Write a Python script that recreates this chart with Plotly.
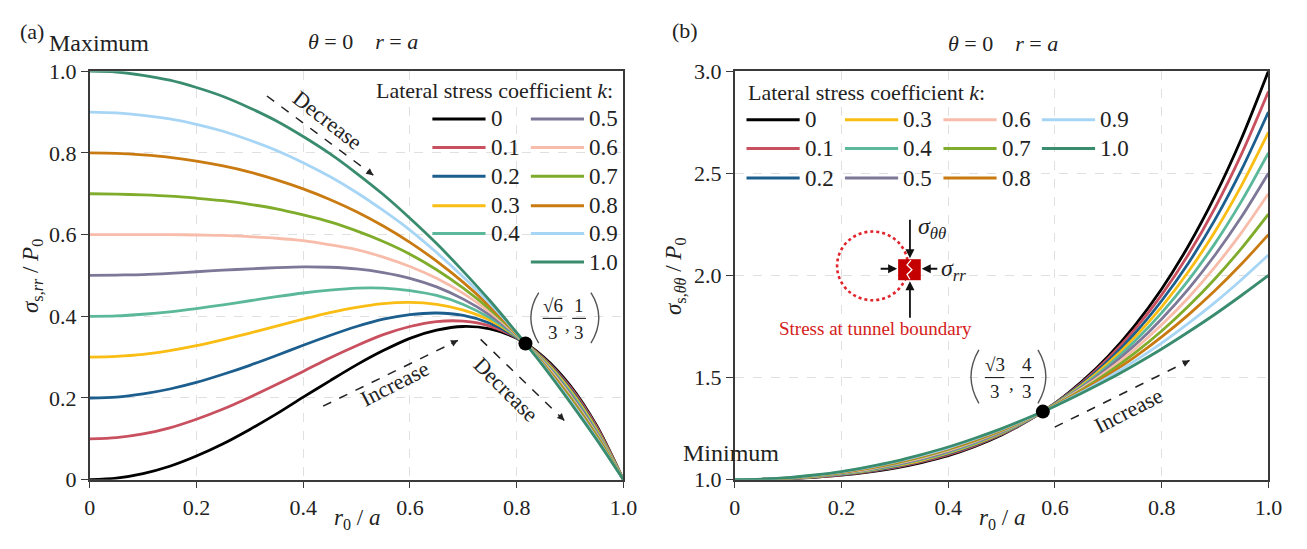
import plotly.graph_objects as go

# ---------------------------------------------------------------- data
r0_over_a = [0.00, 0.05, 0.10, 0.15, 0.20, 0.25, 0.30, 0.35, 0.40, 0.45, 0.50,
             0.55, 0.60, 0.65, 0.70, 0.75, 0.80, 0.85, 0.90, 0.95, 1.00]

k_labels = ["0", "0.1", "0.2", "0.3", "0.4", "0.5", "0.6", "0.7", "0.8", "0.9", "1.0"]
k_colors = ["#000000", "#C9505F", "#1C5F8E", "#F9BD14", "#5BB89A", "#7D7798",
            "#F8BCAA", "#80AC2C", "#C97B12", "#A7D5F5", "#3A8C6F"]

# (a) radial stress sigma_s,rr / P0
rr_k00 = [0, 0.004, 0.015, 0.033, 0.058, 0.088, 0.123, 0.161, 0.202, 0.242, 0.281, 0.316, 0.346, 0.366, 0.375, 0.369, 0.346, 0.301, 0.231, 0.132, 0]
rr_k01 = [0.1, 0.103, 0.112, 0.127, 0.148, 0.173, 0.202, 0.233, 0.265, 0.298, 0.328, 0.355, 0.375, 0.387, 0.388, 0.376, 0.347, 0.298, 0.227, 0.129, 0]
rr_k02 = [0.2, 0.202, 0.210, 0.222, 0.238, 0.258, 0.280, 0.304, 0.329, 0.353, 0.375, 0.393, 0.404, 0.408, 0.402, 0.383, 0.348, 0.296, 0.223, 0.125, 0]
rr_k03 = [0.3, 0.302, 0.307, 0.316, 0.328, 0.343, 0.359, 0.376, 0.393, 0.409, 0.422, 0.431, 0.434, 0.429, 0.415, 0.390, 0.350, 0.294, 0.219, 0.122, 0]
rr_k04 = [0.4, 0.401, 0.405, 0.411, 0.419, 0.428, 0.438, 0.448, 0.457, 0.464, 0.469, 0.469, 0.463, 0.451, 0.429, 0.396, 0.351, 0.291, 0.215, 0.118, 0]
rr_k05 = [0.5, 0.501, 0.502, 0.505, 0.509, 0.513, 0.516, 0.519, 0.521, 0.520, 0.516, 0.507, 0.493, 0.472, 0.442, 0.403, 0.353, 0.289, 0.210, 0.115, 0]
rr_k06 = [0.6, 0.600, 0.600, 0.600, 0.599, 0.598, 0.595, 0.591, 0.585, 0.575, 0.563, 0.545, 0.522, 0.493, 0.456, 0.410, 0.354, 0.287, 0.206, 0.111, 0]
rr_k07 = [0.7, 0.699, 0.697, 0.694, 0.689, 0.683, 0.674, 0.663, 0.648, 0.631, 0.609, 0.583, 0.552, 0.514, 0.469, 0.417, 0.356, 0.284, 0.202, 0.108, 0]
rr_k08 = [0.8, 0.799, 0.795, 0.789, 0.780, 0.768, 0.753, 0.734, 0.712, 0.686, 0.656, 0.621, 0.581, 0.535, 0.483, 0.424, 0.357, 0.282, 0.198, 0.104, 0]
rr_k09 = [0.9, 0.898, 0.892, 0.883, 0.870, 0.853, 0.831, 0.806, 0.776, 0.742, 0.703, 0.659, 0.611, 0.556, 0.496, 0.431, 0.359, 0.280, 0.194, 0.101, 0]
rr_k10 = [1.0, 0.998, 0.990, 0.978, 0.960, 0.938, 0.910, 0.878, 0.840, 0.798, 0.750, 0.698, 0.640, 0.578, 0.510, 0.438, 0.360, 0.278, 0.190, 0.098, 0]

# (b) hoop stress sigma_s,thetatheta / P0
tt_k00 = [1.0, 1.001, 1.005, 1.012, 1.022, 1.037, 1.057, 1.084, 1.118, 1.163, 1.219, 1.289, 1.374, 1.479, 1.605, 1.756, 1.934, 2.144, 2.389, 2.673, 3.0]
tt_k01 = [1.0, 1.001, 1.006, 1.013, 1.024, 1.040, 1.060, 1.088, 1.123, 1.167, 1.222, 1.290, 1.373, 1.473, 1.594, 1.737, 1.905, 2.102, 2.331, 2.596, 2.9]
tt_k02 = [1.0, 1.002, 1.006, 1.014, 1.026, 1.042, 1.064, 1.092, 1.127, 1.171, 1.225, 1.291, 1.372, 1.468, 1.582, 1.717, 1.876, 2.060, 2.273, 2.519, 2.8]
tt_k03 = [1.0, 1.002, 1.007, 1.015, 1.028, 1.045, 1.067, 1.095, 1.131, 1.175, 1.228, 1.293, 1.370, 1.462, 1.571, 1.698, 1.846, 2.018, 2.215, 2.442, 2.7]
tt_k04 = [1.0, 1.002, 1.007, 1.016, 1.029, 1.047, 1.070, 1.099, 1.135, 1.179, 1.231, 1.294, 1.369, 1.456, 1.559, 1.679, 1.817, 1.976, 2.157, 2.365, 2.6]
tt_k05 = [1.0, 1.002, 1.008, 1.017, 1.031, 1.050, 1.074, 1.103, 1.139, 1.183, 1.234, 1.296, 1.367, 1.451, 1.548, 1.659, 1.787, 1.933, 2.100, 2.288, 2.5]
tt_k06 = [1.0, 1.002, 1.008, 1.018, 1.033, 1.052, 1.077, 1.107, 1.143, 1.187, 1.238, 1.297, 1.366, 1.445, 1.536, 1.640, 1.758, 1.891, 2.042, 2.211, 2.4]
tt_k07 = [1.0, 1.002, 1.009, 1.019, 1.035, 1.055, 1.080, 1.111, 1.148, 1.191, 1.241, 1.298, 1.364, 1.439, 1.525, 1.621, 1.728, 1.849, 1.984, 2.134, 2.3]
tt_k08 = [1.0, 1.002, 1.009, 1.020, 1.036, 1.057, 1.083, 1.115, 1.152, 1.195, 1.244, 1.300, 1.363, 1.434, 1.513, 1.601, 1.699, 1.807, 1.926, 2.057, 2.2]
tt_k09 = [1.0, 1.002, 1.010, 1.021, 1.038, 1.060, 1.087, 1.119, 1.156, 1.199, 1.247, 1.301, 1.361, 1.428, 1.502, 1.582, 1.669, 1.765, 1.868, 1.980, 2.1]
tt_k10 = [1.0, 1.003, 1.010, 1.023, 1.040, 1.063, 1.090, 1.123, 1.160, 1.203, 1.250, 1.303, 1.360, 1.423, 1.490, 1.563, 1.640, 1.723, 1.810, 1.903, 2.0]

# common crossing points of all curves
cross_a_x = [0.8165]
cross_a_y = [0.3333]
cross_b_x = [0.5774]
cross_b_y = [1.3333]

x_ticks = [0, 0.2, 0.4, 0.6, 0.8, 1.0]
x_ticktext = ["0", "0.2", "0.4", "0.6", "0.8", "1.0"]
ya_ticks = [0, 0.2, 0.4, 0.6, 0.8, 1.0]
ya_ticktext = ["0", "0.2", "0.4", "0.6", "0.8", "1.0"]
yb_ticks = [1.0, 1.5, 2.0, 2.5, 3.0]
yb_ticktext = ["1.0", "1.5", "2.0", "2.5", "3.0"]

rr_series = [rr_k00, rr_k01, rr_k02, rr_k03, rr_k04, rr_k05, rr_k06, rr_k07, rr_k08, rr_k09, rr_k10]
tt_series = [tt_k00, tt_k01, tt_k02, tt_k03, tt_k04, tt_k05, tt_k06, tt_k07, tt_k08, tt_k09, tt_k10]

# ---------------------------------------------------------------- figure
W, H = 1307, 549
SERIF = "Liberation Serif, Times New Roman, serif"
INK = "#222222"


def pp(x, y):
    """pixel position -> paper coordinates"""
    return x / W, 1 - y / H


fig = go.Figure()

for ys, col in zip(rr_series, k_colors):
    fig.add_trace(go.Scatter(x=r0_over_a, y=ys, mode="lines", xaxis="x", yaxis="y",
                             line=dict(color=col, width=2.8, shape="spline", smoothing=0.8),
                             showlegend=False, hoverinfo="skip"))
for ys, col in zip(tt_series, k_colors):
    fig.add_trace(go.Scatter(x=r0_over_a, y=ys, mode="lines", xaxis="x2", yaxis="y2",
                             line=dict(color=col, width=2.8, shape="spline", smoothing=0.8),
                             showlegend=False, hoverinfo="skip"))

fig.add_trace(go.Scatter(x=cross_a_x, y=cross_a_y, mode="markers", xaxis="x", yaxis="y",
                         marker=dict(color="black", size=14), showlegend=False, cliponaxis=False))
fig.add_trace(go.Scatter(x=cross_b_x, y=cross_b_y, mode="markers", xaxis="x2", yaxis="y2",
                         marker=dict(color="black", size=14), showlegend=False, cliponaxis=False))

axis_style = dict(showline=True, linecolor="#3a3a3a", linewidth=1.5, mirror=True,
                  ticks="outside", ticklen=7, tickwidth=1.3, tickcolor="#3a3a3a",
                  showgrid=True, gridcolor="#e0e0e0", griddash="dash", gridwidth=1,
                  zeroline=False, tickfont=dict(family=SERIF, size=22, color=INK))

y_dom = [1 - 490 / H, 1 - 62 / H]
fig.update_layout(
    width=W, height=H, margin=dict(l=0, r=0, t=0, b=0),
    paper_bgcolor="white", plot_bgcolor="white",
    font=dict(family=SERIF, color=INK),
    xaxis=dict(domain=[85 / W, 627 / W], range=[0, 1], anchor="y",
               tickvals=x_ticks, ticktext=x_ticktext, **axis_style),
    yaxis=dict(domain=y_dom, range=[0, 1], anchor="x",
               tickvals=ya_ticks, ticktext=ya_ticktext, **axis_style),
    xaxis2=dict(domain=[740 / W, 1282 / W], range=[0, 1], anchor="y2",
                tickvals=x_ticks, ticktext=x_ticktext, **axis_style),
    yaxis2=dict(domain=y_dom, range=[1, 3], anchor="x2",
                tickvals=yb_ticks, ticktext=yb_ticktext, **axis_style),
)

annotations = []
shapes = []


def text(x, y, s, size=21, anchor="center", angle=0, color=INK):
    px_, py_ = pp(x, y)
    annotations.append(dict(x=px_, y=py_, xref="paper", yref="paper", text=s,
                            showarrow=False, xanchor=anchor, yanchor="middle",
                            textangle=angle, font=dict(family=SERIF, size=size, color=color)))


def seg(x0, y0, x1, y1, color=INK, width=1.5, dash="solid"):
    a0, b0 = pp(x0, y0)
    a1, b1 = pp(x1, y1)
    shapes.append(dict(type="line", xref="paper", yref="paper", x0=a0, y0=b0, x1=a1, y1=b1,
                       line=dict(color=color, width=width, dash=dash)))


def head(x0, y0, x1, y1, length=10, color=INK, width=1.4):
    dx, dy = x1 - x0, y1 - y0
    n = (dx * dx + dy * dy) ** 0.5
    hx, hy = pp(x1, y1)
    annotations.append(dict(x=hx, y=hy, xref="paper", yref="paper", text="",
                            showarrow=True, arrowhead=2, arrowsize=1, arrowwidth=width,
                            arrowcolor=color, ax=-dx / n * length, ay=-dy / n * length))


def dashed_arrow(x0, y0, x1, y1):
    seg(x0, y0, x1, y1, dash="dash", width=1.5)
    head(x0, y0, x1, y1, length=9)


def solid_arrow(x0, y0, x1, y1):
    dx, dy = x1 - x0, y1 - y0
    hx, hy = pp(x1, y1)
    annotations.append(dict(x=hx, y=hy, xref="paper", yref="paper", text="",
                            showarrow=True, arrowhead=2, arrowsize=1, arrowwidth=1.8,
                            arrowcolor="#111111", ax=-dx, ay=-dy))


def fraction(cx, cy, num, den, bar_half, size=19):
    text(cx, cy - 14, num, size=size)
    text(cx, cy + 15, den, size=size)
    seg(cx - bar_half, cy, cx + bar_half, cy, width=1.1)


def paren_pair(xl, xr, cy, top, bottom):
    # thin curved brackets drawn as quadratic paths
    for x, bulge in ((xl, -8), (xr, 8)):
        p0 = pp(x, top)
        pc = pp(x + bulge, cy)
        p1 = pp(x, bottom)
        path = "M {:.5f},{:.5f} Q {:.5f},{:.5f} {:.5f},{:.5f}".format(
            p0[0], p0[1], 2 * pc[0] - (p0[0] + p1[0]) / 2, pc[1], p1[0], p1[1])
        shapes.append(dict(type="path", xref="paper", yref="paper", path=path,
                           line=dict(color="#555555", width=1.4)))


title_theta = "<i>θ</i> = 0\u2003<i>r</i> = <i>a</i>"

# ---- panel (a) texts
text(26, 20, "(a)", size=22)
text(42, 32, "Maximum", size=24, anchor="left")
text(363, 31, title_theta, size=22)
text(27, 277, "<i>σ</i><sub>s,<i>rr</i></sub> / <i>P</i><sub>0</sub>", size=23, angle=-90)
text(356, 531, "<i>r</i><sub>0</sub> / <i>a</i>", size=23)

# legend (a)
text(618, 82, "Lateral stress coefficient <i>k</i>:", size=22, anchor="right")
rows_a = [112, 142, 172, 203, 232, 262]
for i, (lab, col) in enumerate(zip(k_labels, k_colors)):
    if i < 5:
        x0, x1, xl, yy = 433, 487, 491, rows_a[i]
    else:
        x0, x1, xl, yy = 533, 587, 590, rows_a[i - 5]
    seg(x0, yy, x1, yy, color=col, width=3)
    text(xl, yy, lab, size=23, anchor="left")

# arrows (a)
dashed_arrow(265, 88, 373, 171)
text(327, 114, "Decrease", size=22, angle=38)
dashed_arrow(322, 413, 459, 344)
text(395, 389, "Increase", size=22, angle=-27)
dashed_arrow(482, 343, 567, 428)
text(508, 395, "Decrease", size=22, angle=45)

# crossing point label (a)
paren_pair(541, 594, 320, 294, 347)
fraction(555, 321, "√6", "3", 10)
text(570, 327, ",", size=19)
fraction(582, 321, "1", "3", 7)

# ---- panel (b) texts
text(690, 19, "(b)", size=22)
text(1012, 33, title_theta, size=22)
text(680, 277, "<i>σ</i><sub>s,<i>θθ</i></sub> / <i>P</i><sub>0</sub>", size=23, angle=-90)
text(1011, 531, "<i>r</i><sub>0</sub> / <i>a</i>", size=23)
text(685, 462, "Minimum", size=24, anchor="left")

# legend (b)
text(752, 84, "Lateral stress coefficient <i>k</i>:", size=22, anchor="left")
rows_b = [113, 143, 174]
cols_b = [752, 852, 952, 1052]
for i, (lab, col) in enumerate(zip(k_labels, k_colors)):
    c, r = divmod(i, 3)
    x0 = cols_b[c]
    yy = rows_b[r]
    seg(x0, yy, x0 + 54, yy, color=col, width=3)
    text(x0 + 57, yy, lab, size=23, anchor="left")

# arrow (b)
dashed_arrow(1065, 435, 1202, 365)
text(1140, 418, "Increase", size=22, angle=-27)

# crossing point label (b)
paren_pair(988, 1048, 382, 354, 410)
fraction(1004, 383, "√3", "3", 10)
text(1021, 389, ",", size=19)
fraction(1037, 383, "4", "3", 7)

# inset: stress element at the tunnel boundary
cx, cy, rad = 880, 266, 36
c0x, c0y = pp(cx - rad, cy - rad)
c1x, c1y = pp(cx + rad, cy + rad)
shapes.append(dict(type="circle", xref="paper", yref="paper", x0=c0x, y0=c1y, x1=c1x, y1=c0y,
                   line=dict(color="#E0242B", width=2.6, dash="dot")))
s0x, s0y = pp(906, 259)
s1x, s1y = pp(929, 281)
shapes.append(dict(type="rect", xref="paper", yref="paper", x0=s0x, y0=s1y, x1=s1x, y1=s0y,
                   fillcolor="#C40000", line=dict(width=0)))
crack = [(919, 260), (915, 265), (920, 270), (915, 275), (918, 280)]
path = "M " + " L ".join("{:.5f},{:.5f}".format(*pp(x, y)) for x, y in crack)
shapes.append(dict(type="path", xref="paper", yref="paper", path=path,
                   line=dict(color="white", width=1.3)))
solid_arrow(918, 218, 918, 258)
solid_arrow(918, 320, 918, 282)
solid_arrow(887, 269, 905, 269)
solid_arrow(947, 269, 930, 269)
text(924, 226, "<i>σ</i><sub><i>θθ</i></sub>", size=24, anchor="left")
text(947, 270, "<i>σ</i><sub><i>rr</i></sub>", size=24, anchor="left")
text(883, 332, "Stress at tunnel boundary", size=19, color="#D42020")

fig.update_layout(annotations=annotations, shapes=shapes)
fig.write_html("out.html")
